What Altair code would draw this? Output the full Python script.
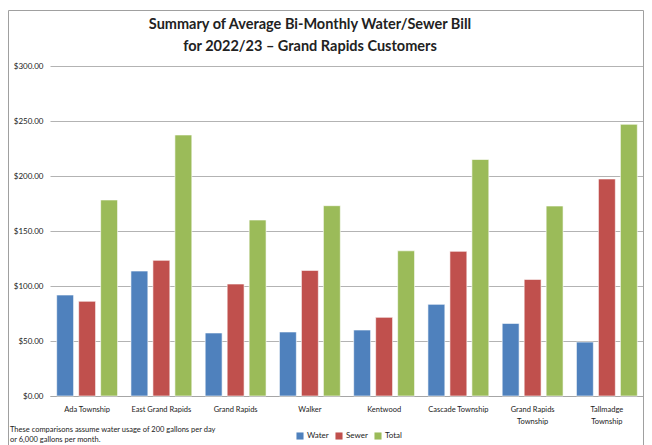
import altair as alt
import pandas as pd

categories = ["Ada Township", "East Grand Rapids", "Grand Rapids", "Walker",
              "Kentwood", "Cascade Township", "Grand Rapids Township", "Tallmadge Township"]
water = [91.8, 113.6, 57.3, 58.2, 60.0, 83.3, 66.0, 49.0]
sewer = [86.1, 123.3, 101.8, 114.2, 71.5, 131.5, 106.0, 197.3]
total = [178.2, 237.3, 160.0, 173.0, 132.0, 215.0, 172.7, 247.0]
series = ["Water", "Sewer", "Total"]
colors = ["#4F81BD", "#C0504D", "#9BBB59"]
y_ticks = [0, 50, 100, 150, 200, 250, 300]
title_lines = ["Summary of Average Bi-Monthly Water/Sewer Bill",
               "for 2022/23 \u2013 Grand Rapids Customers"]
footnote = ["These comparisons assume water usage of 200 gallons per day",
            "or 6,000 gallons per month."]

rows = []
for i, c in enumerate(categories):
    for s, vals in zip(series, [water, sewer, total]):
        rows.append({"Community": c, "Series": s, "Bill": vals[i]})
df = pd.DataFrame(rows)

label_expr = ("datum.label == 'Grand Rapids Township' ? ['Grand Rapids', 'Township'] : "
              "datum.label == 'Tallmadge Township' ? ['Tallmadge', 'Township'] : datum.label")

bars = alt.Chart(df).mark_bar(stroke="white", strokeWidth=1, strokeOpacity=0.6).encode(
    x=alt.X("Community:N", sort=categories,
            scale=alt.Scale(paddingInner=0.18, paddingOuter=0.09),
            axis=alt.Axis(title=None, labelAngle=0, labelExpr=label_expr, labelFontSize=7.5,
                          labelColor="#222", ticks=False, domainColor="#a6a6a6",
                          labelPadding=9, labelLineHeight=12)),
    xOffset=alt.XOffset("Series:N", sort=series,
                        scale=alt.Scale(paddingInner=0.23, paddingOuter=0)),
    y=alt.Y("Bill:Q", scale=alt.Scale(domain=[0, 300]),
            axis=alt.Axis(values=y_ticks, format="$.2f", title=None, domain=False,
                          ticks=False, gridColor="#b3b3b3", labelFontSize=8,
                          labelColor="#222", labelPadding=7)),
    color=alt.Color("Series:N", sort=series,
                    scale=alt.Scale(domain=series, range=colors),
                    legend=alt.Legend(title=None, orient="none", direction="horizontal",
                                      legendX=246, legendY=366, symbolType="square",
                                      symbolSize=50, symbolStrokeWidth=0, labelFontSize=8,
                                      labelColor="#222", columnPadding=6, labelOffset=3)),
)

one = pd.DataFrame({"k": [0]})

note = alt.Chart(one).mark_text(
    align="left", baseline="middle", fontSize=7.5, lineHeight=9.5, color="#222"
).encode(x=alt.value(-40), y=alt.value(364), text=alt.value(footnote))

title1 = alt.Chart(one).mark_text(
    align="center", baseline="middle", fontSize=14.5, fontWeight="bold", color="#222", font="Lato"
).encode(x=alt.value(260), y=alt.value(-41), text=alt.value(title_lines[0]))

title2 = alt.Chart(one).mark_text(
    align="center", baseline="middle", fontSize=14.5, fontWeight="bold", color="#222", font="Lato"
).encode(x=alt.value(260), y=alt.value(-19), text=alt.value(title_lines[1]))

border = alt.Chart(one).mark_rect(
    fillOpacity=0, stroke="#a0a0a0", strokeWidth=1
).encode(x=alt.value(-41.5), x2=alt.value(593.5), y=alt.value(-55.5), y2=alt.value(420))

chart = alt.layer(border, bars, note, title1, title2).properties(
    width=594, height=330,
    autosize="none",
    padding={"left": 42, "top": 58, "right": 0, "bottom": 49},
).configure(font="Lato").configure_view(stroke=None)

chart.save("out.html", embed_options={"renderer": "svg", "actions": False})
